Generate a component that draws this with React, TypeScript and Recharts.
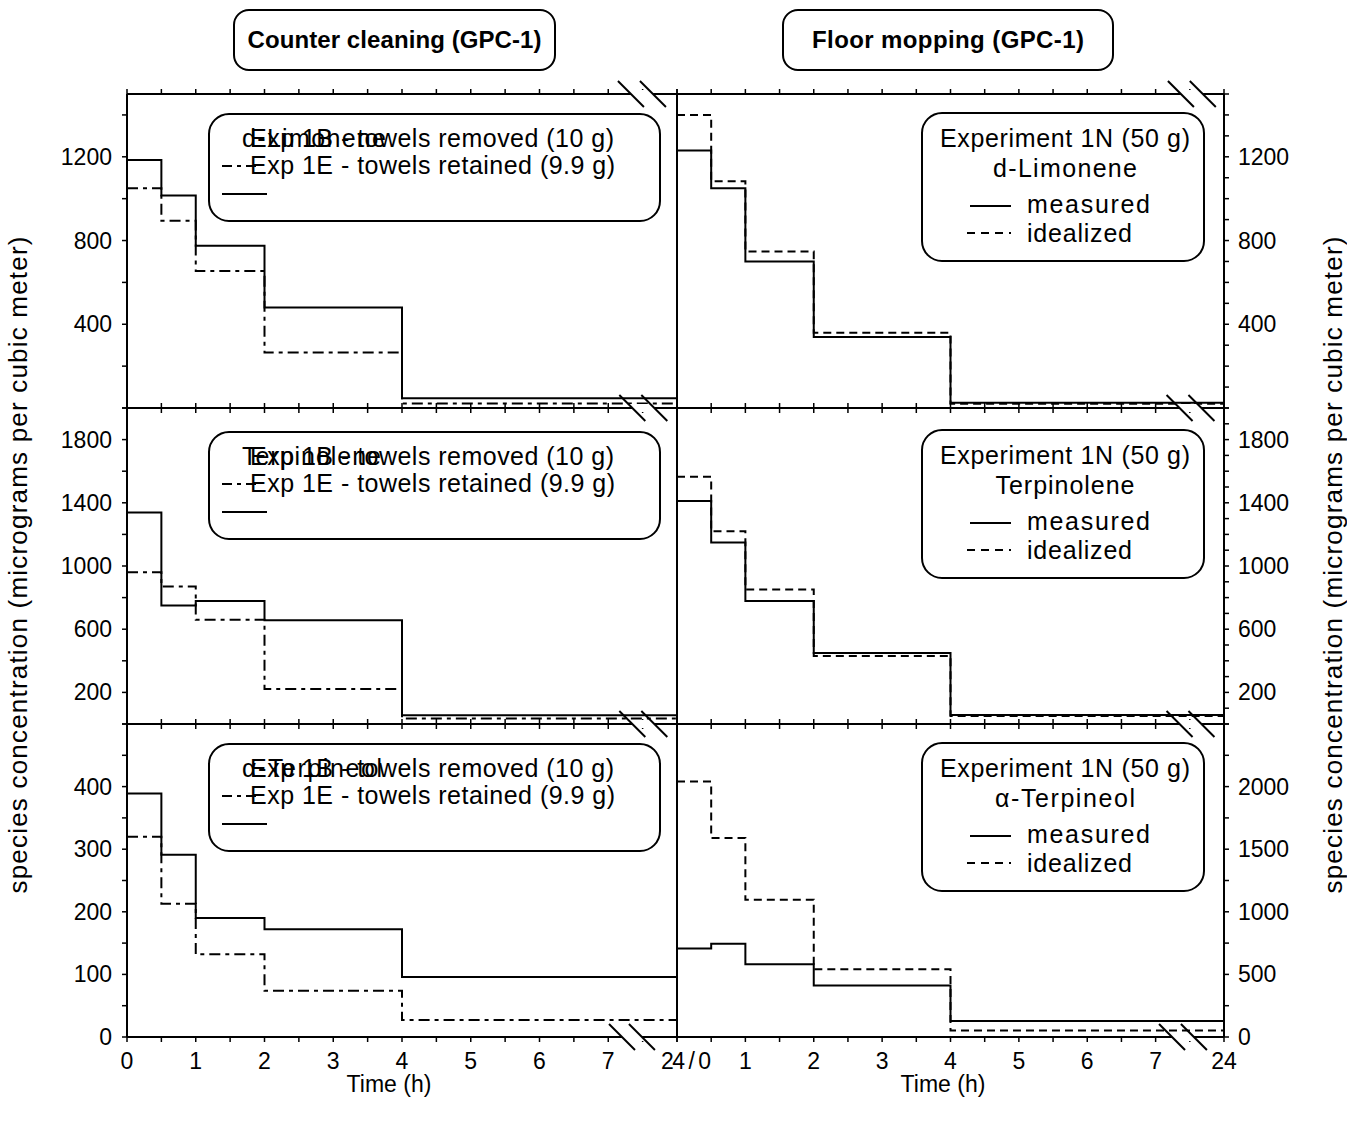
import React from 'react';
import { LineChart, Line, XAxis, YAxis, Legend } from 'recharts';

const FONT = '"Liberation Sans", Arial, Helvetica, sans-serif';

// ---------- text ----------
const panelTitles = ['Counter cleaning (GPC-1)', 'Floor mopping (GPC-1)'];
const speciesNames = ['d-Limonene', 'Terpinolene', '\u03B1-Terpineol'];
const counterSeriesNames = ['Exp 1B - towels removed (10 g)', 'Exp 1E - towels retained (9.9 g)'];
const floorExperimentName = 'Experiment 1N (50 g)';
const floorSeriesNames = ['measured', 'idealized'];
const xAxisTitle = 'Time (h)';
const yAxisTitle = 'species concentration (micrograms per cubic meter)';

// ---------- time axis (position 8 on the broken axis = 24 h) ----------
const stepTimes = [0, 0.5, 1, 2, 4, 8];
const timeTicks = [0, 0.5, 1, 1.5, 2, 2.5, 3, 3.5, 4, 4.5, 5, 5.5, 6, 6.5, 7, 7.5, 8];
const timeLabelsCounter = ['0', '1', '2', '3', '4', '5', '6', '7', '24 / 0'];
const timeLabelsFloor = ['', '1', '2', '3', '4', '5', '6', '7', '24'];

// ---------- concentrations per interval: 0-0.5, 0.5-1, 1-2, 2-4, 4-24 h ----------
const limoneneTowelsRemoved = [1185, 1015, 775, 480, 47];
const limoneneTowelsRetained = [1050, 895, 655, 265, 22];
const terpinoleneTowelsRemoved = [1338, 750, 778, 656, 55];
const terpinoleneTowelsRetained = [960, 870, 660, 221, 35];
const terpineolTowelsRemoved = [389, 291, 190, 172, 96];
const terpineolTowelsRetained = [320, 213, 132, 74, 27];

const limoneneMeasured = [1230, 1050, 700, 339, 25];
const limoneneIdealized = [1400, 1083, 748, 360, 20];
const terpinoleneMeasured = [1411, 1149, 778, 450, 57];
const terpinoleneIdealized = [1565, 1220, 851, 431, 50];
const terpineolMeasured = [707, 744, 581, 411, 128];
const terpineolIdealized = [2040, 1589, 1096, 541, 51];

// ---------- y axes ----------
const counterYMax = [1500, 2000, 500];
const floorYMax = [1500, 2000, 2500];
const counterYTicks = [
  [0, 200, 400, 600, 800, 1000, 1200, 1400],
  [0, 200, 400, 600, 800, 1000, 1200, 1400, 1600, 1800, 2000],
  [0, 50, 100, 150, 200, 250, 300, 350, 400, 450, 500],
];
const counterYLabels = [
  [400, 800, 1200],
  [200, 600, 1000, 1400, 1800],
  [0, 100, 200, 300, 400],
];
const floorYTicks = [
  [0, 100, 200, 300, 400, 500, 600, 700, 800, 900, 1000, 1100, 1200, 1300, 1400, 1500],
  [0, 100, 200, 300, 400, 500, 600, 700, 800, 900, 1000, 1100, 1200, 1300, 1400, 1500, 1600, 1700, 1800, 1900, 2000],
  [0, 250, 500, 750, 1000, 1250, 1500, 1750, 2000, 2250, 2500],
];
const floorYLabels = [
  [400, 800, 1200],
  [200, 600, 1000, 1400, 1800],
  [0, 500, 1000, 1500, 2000],
];

// ---------- layout ----------
const COLS = [
  { left: 127, width: 550 },
  { left: 677, width: 547 },
];
const ROWS = [
  { top: 94, height: 314 },
  { top: 408, height: 316 },
  { top: 724, height: 313 },
];
const BREAKS = [
  { col: 0, y: 94, xs: [7.33, 7.65] },
  { col: 0, y: 408, xs: [7.35, 7.67] },
  { col: 0, y: 724, xs: [7.35, 7.67] },
  { col: 0, y: 1037, xs: [7.2, 7.49] },
  { col: 1, y: 94, xs: [7.37, 7.69] },
  { col: 1, y: 408, xs: [7.35, 7.67] },
  { col: 1, y: 724, xs: [7.35, 7.67] },
  { col: 1, y: 1037, xs: [7.24, 7.56] },
];

const tickTextStyle = { fontFamily: FONT, fontSize: 23, fill: '#000' };

function xTick(labels: string[] | null, edge: 'top' | 'bottom') {
  return (p: any) => {
    const v = p.payload.value;
    const lab = labels && Number.isInteger(v) ? labels[v] : '';
    const isJoined = lab === '24 / 0';
    return (
      <g>
        <line x1={p.x} x2={p.x} y1={p.y} y2={edge === 'bottom' ? p.y + 5 : p.y - 5} stroke="#000" strokeWidth={1.5} />
        {lab ? (
          <text
            x={isJoined ? p.x - 16 : p.x}
            y={p.y + 32}
            textAnchor={isJoined ? 'start' : 'middle'}
            textLength={isJoined ? 50 : undefined}
            lengthAdjust="spacing"
            style={tickTextStyle}
          >
            {lab}
          </text>
        ) : null}
      </g>
    );
  };
}

function yTick(labels: number[] | null, side: 'left' | 'right') {
  return (p: any) => {
    const v = p.payload.value;
    const show = labels ? labels.indexOf(v) >= 0 : false;
    return (
      <g>
        <line x1={p.x} x2={side === 'left' ? p.x - 5 : p.x + 5} y1={p.y} y2={p.y} stroke="#000" strokeWidth={1.5} />
        {show ? (
          <text
            x={side === 'left' ? p.x - 15 : p.x + 14}
            y={p.y + 8}
            textAnchor={side === 'left' ? 'end' : 'start'}
            style={tickTextStyle}
          >
            {v}
          </text>
        ) : null}
      </g>
    );
  };
}

const speciesWidths = [144, 139, 140];

function CounterLegendBox({ row }: { row: number }) {
  const w = 451;
  const h = 107;
  return (
    <svg width={w + 4} height={h + 4} style={{ display: 'block', overflow: 'visible' }}>
      <g transform="translate(2,2)">
        <rect x={0} y={0} width={w} height={h} rx={20} ry={20} fill="none" stroke="#000" strokeWidth={2} />
        <text x={33} y={33} textLength={speciesWidths[row]} lengthAdjust="spacing" style={{ fontFamily: FONT, fontSize: 25, fill: '#000' }}>
          {speciesNames[row]}
        </text>
        <text x={41} y={33} textLength={364} lengthAdjust="spacing" style={{ fontFamily: FONT, fontSize: 25, fill: '#000' }}>
          {counterSeriesNames[0]}
        </text>
        <line x1={13} x2={49} y1={52} y2={52} stroke="#000" strokeWidth={2} strokeDasharray="10 5 4 5" />
        <text x={41} y={60} textLength={365} lengthAdjust="spacing" style={{ fontFamily: FONT, fontSize: 25, fill: '#000' }}>
          {counterSeriesNames[1]}
        </text>
        <line x1={13} x2={58} y1={80} y2={80} stroke="#000" strokeWidth={2} />
      </g>
    </svg>
  );
}

function FloorLegendBox({ row }: { row: number }) {
  const w = 282;
  const h = 148;
  const ts = { fontFamily: FONT, fontSize: 25, fill: '#000' };
  return (
    <svg width={w + 4} height={h + 4} style={{ display: 'block', overflow: 'visible' }}>
      <g transform="translate(2,2)">
        <rect x={0} y={0} width={w} height={h} rx={20} ry={20} fill="none" stroke="#000" strokeWidth={2} />
        <text x={143} y={34} textAnchor="middle" textLength={250} lengthAdjust="spacing" style={ts}>
          {floorExperimentName}
        </text>
        <text x={143} y={64} textAnchor="middle" textLength={speciesWidths[row]} lengthAdjust="spacing" style={ts}>
          {speciesNames[row]}
        </text>
        <line x1={48} x2={89} y1={93} y2={93} stroke="#000" strokeWidth={2} />
        <text x={105} y={100} textLength={123} lengthAdjust="spacing" style={ts}>
          {floorSeriesNames[0]}
        </text>
        <line x1={45} x2={89} y1={120} y2={120} stroke="#000" strokeWidth={2} strokeDasharray="8 6" />
        <text x={105} y={129} textLength={105} lengthAdjust="spacing" style={ts}>
          {floorSeriesNames[1]}
        </text>
      </g>
    </svg>
  );
}

function Panel({ col, row }: { col: number; row: number }) {
  const C = COLS[col];
  const R = ROWS[row];
  const isLeft = col === 0;
  const YL = isLeft ? 127 : 20;
  const YR = isLeft ? 60 : 123;
  const XT = row === 0 ? 94 : row === 1 ? 185 : 20;
  const XB = row === 2 ? 91 : row === 1 ? 185 : 20;
  const ox = C.left - YL;
  const oy = R.top - XT;
  const width = YL + C.width + YR;
  const height = XT + R.height + XB;

  const solid = isLeft
    ? [limoneneTowelsRemoved, terpinoleneTowelsRemoved, terpineolTowelsRemoved][row]
    : [limoneneMeasured, terpinoleneMeasured, terpineolMeasured][row];
  const dashed = isLeft
    ? [limoneneTowelsRetained, terpinoleneTowelsRetained, terpineolTowelsRetained][row]
    : [limoneneIdealized, terpinoleneIdealized, terpineolIdealized][row];

  const data = stepTimes.map((t, i) => ({
    t,
    solid: solid[Math.min(i, solid.length - 1)],
    dashed: dashed[Math.min(i, dashed.length - 1)],
  }));

  const yMax = isLeft ? counterYMax[row] : floorYMax[row];
  const yTicks = isLeft ? counterYTicks[row] : floorYTicks[row];
  const yLabels = isLeft ? counterYLabels[row] : floorYLabels[row];
  const axisLine = { stroke: '#000', strokeWidth: 2 };

  const titleBox = isLeft ? { x: 234, w: 321, tl: 294 } : { x: 783, w: 330, tl: 272 };
  const titleLabel = () => (
    <g>
      <rect x={titleBox.x - ox} y={10 - oy} width={titleBox.w} height={60} rx={15} ry={15} fill="none" stroke="#000" strokeWidth={2} />
      <text
        x={titleBox.x + titleBox.w / 2 - ox}
        y={48 - oy}
        textAnchor="middle"
        textLength={titleBox.tl}
        lengthAdjust="spacing"
        style={{ fontFamily: FONT, fontSize: 24, fontWeight: 'bold', fill: '#000' }}
      >
        {panelTitles[col]}
      </text>
    </g>
  );
  const timeLabel = () => (
    <text
      x={(isLeft ? 389 : 943) - ox}
      y={1092 - oy}
      textAnchor="middle"
      textLength={85}
      lengthAdjust="spacing"
      style={{ fontFamily: FONT, fontSize: 23, fill: '#000' }}
    >
      {xAxisTitle}
    </text>
  );
  const yTitle = () => {
    const cx = (isLeft ? 18 : 1333) - ox;
    const cy = 565 - oy;
    return (
      <text
        transform={`translate(${cx},${cy}) rotate(-90)`}
        x={0}
        y={9}
        textAnchor="middle"
        textLength={657}
        lengthAdjust="spacing"
        style={{ fontFamily: FONT, fontSize: 26, fill: '#000' }}
      >
        {yAxisTitle}
      </text>
    );
  };

  const legendBox = isLeft
    ? { x: 209, y: [114, 432, 744][row], w: 451, h: 107 }
    : { x: 922, y: [113, 430, 743][row], w: 282, h: 148 };

  return (
    <div style={{ position: 'absolute', left: ox, top: oy, width, height }}>
      <LineChart width={width} height={height} data={data} margin={{ top: 0, right: 0, bottom: 0, left: 0 }}>
        <XAxis
          xAxisId="b"
          orientation="bottom"
          type="number"
          dataKey="t"
          domain={[0, 8]}
          ticks={timeTicks}
          interval={0}
          height={XB}
          tickLine={false}
          tickSize={0}
          tickMargin={0}
          axisLine={axisLine}
          tick={xTick(row === 2 ? (isLeft ? timeLabelsCounter : timeLabelsFloor) : null, 'bottom')}
          label={row === 2 ? timeLabel : undefined}
        />
        <XAxis
          xAxisId="t"
          orientation="top"
          type="number"
          dataKey="t"
          domain={[0, 8]}
          ticks={timeTicks}
          interval={0}
          height={XT}
          tickLine={false}
          tickSize={0}
          tickMargin={0}
          axisLine={axisLine}
          tick={xTick(null, 'top')}
          label={row === 0 ? titleLabel : undefined}
        />
        <YAxis
          yAxisId="l"
          orientation="left"
          type="number"
          domain={[0, yMax]}
          ticks={yTicks}
          interval={0}
          width={YL}
          tickLine={false}
          tickSize={0}
          tickMargin={0}
          axisLine={axisLine}
          tick={yTick(isLeft ? yLabels : null, 'left')}
          label={isLeft && row === 1 ? yTitle : undefined}
        />
        <YAxis
          yAxisId="r"
          orientation="right"
          type="number"
          domain={[0, yMax]}
          ticks={yTicks}
          interval={0}
          width={YR}
          tickLine={false}
          tickSize={0}
          tickMargin={0}
          axisLine={axisLine}
          tick={yTick(isLeft ? null : yLabels, 'right')}
          label={!isLeft && row === 1 ? yTitle : undefined}
        />
        <Line
          xAxisId="b"
          yAxisId={isLeft ? 'l' : 'r'}
          type="stepAfter"
          dataKey="dashed"
          name={isLeft ? counterSeriesNames[1] : floorSeriesNames[1]}
          stroke="#000"
          strokeWidth={2}
          strokeDasharray={isLeft ? '11 5 4 5' : '8 5'}
          dot={false}
          activeDot={false}
          isAnimationActive={false}
        />
        <Line
          xAxisId="b"
          yAxisId={isLeft ? 'l' : 'r'}
          type="stepAfter"
          dataKey="solid"
          name={isLeft ? counterSeriesNames[0] : floorSeriesNames[0]}
          stroke="#000"
          strokeWidth={2}
          dot={false}
          activeDot={false}
          isAnimationActive={false}
        />
        <Legend
          layout="horizontal"
          verticalAlign="middle"
          align="center"
          wrapperStyle={{
            left: legendBox.x - ox - 2,
            top: legendBox.y - oy - 2,
            width: legendBox.w + 4,
            height: legendBox.h + 4,
            margin: 0,
            padding: 0,
            lineHeight: 0,
          }}
          content={() => (isLeft ? <CounterLegendBox row={row} /> : <FloorLegendBox row={row} />)}
        />
      </LineChart>
    </div>
  );
}

function BreakMarks() {
  const items: React.ReactNode[] = [];
  BREAKS.forEach((b, i) => {
    const C = COLS[b.col];
    const px = b.xs.map((x) => C.left + (x / 8) * C.width);
    const y = b.y;
    items.push(
      <g key={i}>
        <polygon
          points={`${px[0] - 4},${y - 4} ${px[1] - 4},${y - 4} ${px[1] + 4},${y + 4} ${px[0] + 4},${y + 4}`}
          fill="#fff"
        />
        {px.map((x, j) => (
          <line key={j} x1={x - 13} y1={y - 13} x2={x + 13} y2={y + 13} stroke="#000" strokeWidth={2} />
        ))}
      </g>
    );
  });
  return (
    <svg width={1347} height={1128} style={{ position: 'absolute', left: 0, top: 0, pointerEvents: 'none' }}>
      {items}
    </svg>
  );
}

export default function App() {
  return (
    <div
      style={{
        position: 'absolute',
        left: 0,
        top: 0,
        width: 1347,
        height: 1128,
        background: '#fff',
        fontFamily: FONT,
        overflow: 'hidden',
      }}
    >
      {[0, 1, 2].map((row) => (
        <React.Fragment key={row}>
          <Panel col={0} row={row} />
          <Panel col={1} row={row} />
        </React.Fragment>
      ))}
      <BreakMarks />
    </div>
  );
}
